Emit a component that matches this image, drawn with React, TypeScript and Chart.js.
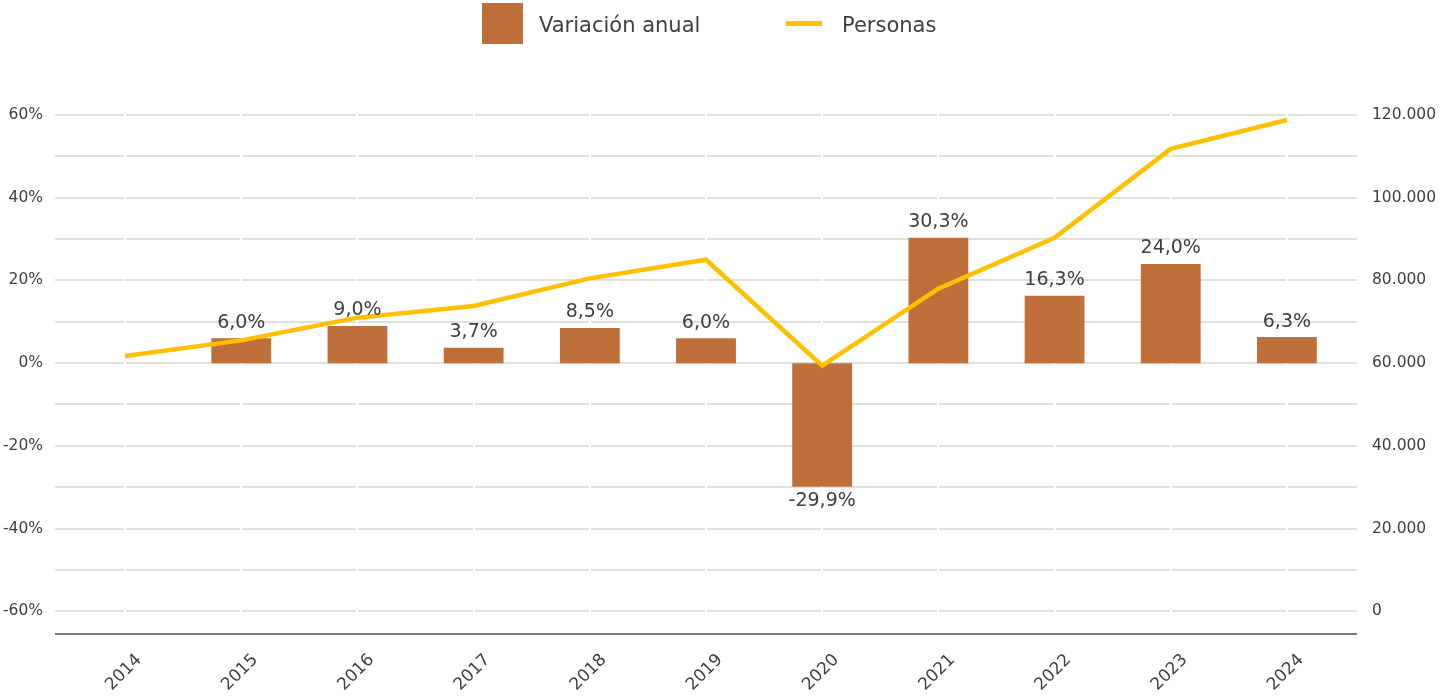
import React, { useEffect, useRef } from "react";
import { Chart, registerables } from "chart.js";

Chart.register(...registerables);

const years = ["2014", "2015", "2016", "2017", "2018", "2019", "2020", "2021", "2022", "2023", "2024"];
const variacion: (number | null)[] = [null, 6.0, 9.0, 3.7, 8.5, 6.0, -29.9, 30.3, 16.3, 24.0, 6.3];
const personas = [61700, 65500, 71000, 73800, 80500, 85000, 59400, 78000, 90300, 111800, 118800];
const leftTicks = [-60, -40, -20, 0, 20, 40, 60];
const gridValues = [-60, -50, -40, -30, -20, -10, 0, 10, 20, 30, 40, 50, 60];
const rightTicks = [0, 20000, 40000, 60000, 80000, 100000, 120000];

const BAR_COLOR = "#BF6F3A";
const LINE_COLOR = "#FFC000";
const TEXT_COLOR = "#404040";
const GRID_COLOR = "#E2E0DB";
const FONT = "'DejaVu Sans', sans-serif";

const fmtPct = (v: number) => v.toFixed(1).replace(".", ",") + "%";
const fmtThousands = (v: number) => String(Math.round(v)).replace(/\B(?=(\d{3})+(?!\d))/g, ".");

const gridPlugin = {
  id: "customGrid",
  beforeDatasetsDraw(chart: any) {
    const { ctx, chartArea, scales } = chart;
    const yL = scales.yLeft;
    const x = scales.x;
    const l = chartArea.left - 12;
    const r = chartArea.right + 12;
    ctx.save();
    ctx.strokeStyle = GRID_COLOR;
    ctx.lineWidth = 2;
    gridValues.forEach((v) => {
      const y = Math.round(yL.getPixelForValue(v));
      ctx.beginPath();
      ctx.moveTo(l, y);
      ctx.lineTo(r, y);
      ctx.stroke();
    });
    ctx.strokeStyle = "#ffffff";
    ctx.lineWidth = 2;
    years.forEach((_, i) => {
      const px = Math.round(x.getPixelForValue(i));
      ctx.beginPath();
      ctx.moveTo(px, chartArea.top - 2);
      ctx.lineTo(px, chartArea.bottom);
      ctx.stroke();
    });
    ctx.strokeStyle = "#7a7a7a";
    ctx.lineWidth = 2;
    ctx.beginPath();
    ctx.moveTo(l, chartArea.bottom);
    ctx.lineTo(r, chartArea.bottom);
    ctx.stroke();
    ctx.restore();
  },
};

const labelPlugin = {
  id: "barLabels",
  afterDatasetsDraw(chart: any) {
    const { ctx } = chart;
    const meta = chart.getDatasetMeta(0);
    ctx.save();
    ctx.font = `19px ${FONT}`;
    ctx.fillStyle = TEXT_COLOR;
    ctx.textAlign = "center";
    meta.data.forEach((el: any, i: number) => {
      const v = variacion[i];
      if (v === null || v === undefined) return;
      if (v >= 0) {
        ctx.textBaseline = "bottom";
        ctx.fillText(fmtPct(v), el.x, el.y - 6);
      } else {
        ctx.textBaseline = "top";
        ctx.fillText(fmtPct(v), el.x, el.y + 5);
      }
    });
    ctx.restore();
  },
};

export default function App() {
  const canvasRef = useRef<HTMLCanvasElement | null>(null);

  useEffect(() => {
    if (!canvasRef.current) return;
    const chart = new Chart(canvasRef.current, {
      type: "bar",
      data: {
        labels: years,
        datasets: [
          {
            type: "bar",
            label: "Variación anual",
            data: variacion as any,
            backgroundColor: BAR_COLOR,
            yAxisID: "yLeft",
            order: 1,
            barPercentage: 0.515,
            categoryPercentage: 1,
          },
          {
            type: "line",
            label: "Personas",
            data: personas,
            borderColor: LINE_COLOR,
            backgroundColor: LINE_COLOR,
            borderWidth: 4.5,
            pointRadius: 0,
            tension: 0,
            yAxisID: "yRight",
            order: 0,
          },
        ],
      },
      options: {
        responsive: false,
        maintainAspectRatio: false,
        animation: false,
        layout: { padding: { top: 115, left: 0, right: 0, bottom: 0 } },
        plugins: {
          legend: { display: false },
          tooltip: { enabled: false },
        },
        scales: {
          x: {
            grid: { display: false, drawTicks: false },
            border: { display: false },
            ticks: {
              minRotation: 45,
              maxRotation: 45,
              color: TEXT_COLOR,
              font: { family: FONT, size: 17 },
              padding: 16,
              labelOffset: 14,
            },
            afterFit: (s: any) => {
              s.height = 66;
            },
          },
          yLeft: {
            type: "linear",
            position: "left",
            min: -65.5,
            max: 60,
            grid: { display: false, drawTicks: false },
            border: { display: false },
            ticks: {
              color: TEXT_COLOR,
              font: { family: FONT, size: 15.5 },
              padding: 24,
              callback: (v: any) => v + "%",
            },
            afterBuildTicks: (s: any) => {
              s.ticks = leftTicks.map((v) => ({ value: v }));
            },
            afterFit: (s: any) => {
              s.width = 67;
            },
          },
          yRight: {
            type: "linear",
            position: "right",
            min: -5500,
            max: 120000,
            grid: { display: false, drawTicks: false },
            border: { display: false },
            ticks: {
              color: TEXT_COLOR,
              font: { family: FONT, size: 15.5 },
              padding: 27,
              callback: (v: any) => fmtThousands(Number(v)),
            },
            afterBuildTicks: (s: any) => {
              s.ticks = rightTicks.map((v) => ({ value: v }));
            },
            afterFit: (s: any) => {
              s.width = 96;
            },
          },
        },
      },
      plugins: [gridPlugin, labelPlugin],
    });
    return () => chart.destroy();
  }, []);

  return (
    <div style={{ position: "absolute", left: 0, top: 0, width: 1441, height: 700, background: "#fff" }}>
      <canvas ref={canvasRef} width={1441} height={700} style={{ position: "absolute", left: 0, top: 0 }} />
      <div style={{ position: "absolute", left: 482, top: 3, width: 41, height: 41, background: BAR_COLOR }} />
      <div
        style={{
          position: "absolute",
          left: 539,
          top: 11,
          font: `21px ${FONT}`,
          color: TEXT_COLOR,
          lineHeight: "28px",
          whiteSpace: "nowrap",
        }}
      >
        Variación anual
      </div>
      <div style={{ position: "absolute", left: 786, top: 21, width: 36, height: 5, background: LINE_COLOR }} />
      <div
        style={{
          position: "absolute",
          left: 842,
          top: 11,
          font: `21px ${FONT}`,
          color: TEXT_COLOR,
          lineHeight: "28px",
          whiteSpace: "nowrap",
        }}
      >
        Personas
      </div>
    </div>
  );
}
